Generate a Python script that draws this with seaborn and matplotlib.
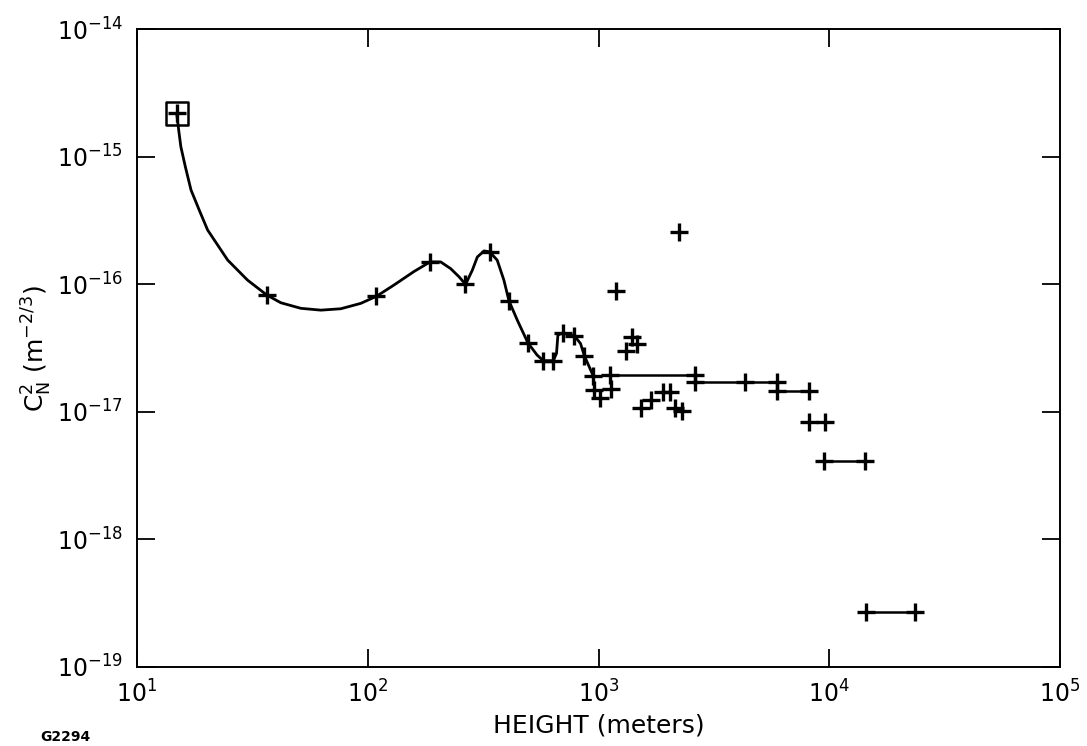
import matplotlib
matplotlib.use("Agg")
import matplotlib.pyplot as plt
import matplotlib.ticker as mticker
import seaborn as sns
import pandas as pd

# ---- data ----
# smooth hand-drawn curve through the low-altitude points
curve_height = [14.86, 15.16, 15.49, 16.2, 17.14, 18.6, 20.23, 24.72, 30.13, 36.56, 41.98,
                51.29, 62.66, 76.38, 93.33, 109.4, 130.0, 158.5, 186.2, 207.0, 228.6,
                248.3, 265.5, 283.8, 298.5, 319.2, 337.3, 363.9, 389.0, 409.3, 444.6,
                494.3, 542.0, 576.8, 636.8, 657.7, 666.8, 701.5, 787.0, 835.6, 869.0, 948.4]
curve_cn2 = [2.19e-15, 1.62e-15, 1.20e-15, 8.36e-16, 5.50e-16, 3.83e-16, 2.67e-16, 1.55e-16,
             1.08e-16, 8.24e-17, 7.18e-17, 6.49e-17, 6.28e-17, 6.44e-17, 7.10e-17, 8.09e-17,
             9.89e-17, 1.26e-16, 1.50e-16, 1.50e-16, 1.33e-16, 1.15e-16, 1.00e-16, 1.29e-16,
             1.64e-16, 1.83e-16, 1.80e-16, 1.55e-16, 1.08e-16, 7.43e-17, 5.25e-17, 3.48e-17,
             2.79e-17, 2.52e-17, 2.52e-17, 2.88e-17, 4.00e-17, 4.17e-17, 3.94e-17, 3.44e-17,
             2.75e-17, 1.92e-17]

# measured points (+ markers)
point_height = [14.9, 36.6, 109, 186, 265, 337, 409, 494, 577, 637, 701, 787, 869, 948,
                960, 1020, 1127, 1138, 1195, 1310, 1400, 1470, 1530, 1690, 1900, 2035,
                2155, 2230, 2300, 2630, 2630, 4300, 5930, 5930, 8130, 8130, 9610,
                9510, 14300, 14450, 23550]
point_cn2 = [2.19e-15, 8.2e-17, 8.1e-17, 1.5e-16, 1.0e-16, 1.8e-16, 7.4e-17, 3.48e-17,
             2.52e-17, 2.52e-17, 4.17e-17, 3.94e-17, 2.75e-17, 1.92e-17,
             1.48e-17, 1.28e-17, 1.94e-17, 1.51e-17, 8.85e-17, 3.0e-17, 3.88e-17, 3.4e-17,
             1.08e-17, 1.25e-17, 1.42e-17, 1.42e-17, 1.08e-17, 2.56e-16, 1.01e-17,
             1.94e-17, 1.72e-17, 1.72e-17, 1.72e-17, 1.47e-17, 1.47e-17, 8.36e-18, 8.36e-18,
             4.11e-18, 4.11e-18, 2.7e-19, 2.7e-19]

# layer-average step segments
seg_id = [1, 1, 1, 2, 2, 2, 2, 3, 3, 4, 4]
seg_height = [1127, 2630, 2630, 2630, 4300, 5930, 5930, 5930, 8130, 9510, 14300]
seg_cn2 = [1.94e-17, 1.94e-17, 1.72e-17, 1.72e-17, 1.72e-17, 1.72e-17, 1.47e-17,
           1.47e-17, 1.47e-17, 4.11e-18, 4.11e-18]
seg5_height = [14800, 23550]
seg5_cn2 = [2.7e-19, 2.7e-19]

# surface point (square)
square_height = [14.9]
square_cn2 = [2.19e-15]

x_ticks = [1e1, 1e2, 1e3, 1e4, 1e5]
y_ticks = [1e-19, 1e-18, 1e-17, 1e-16, 1e-15, 1e-14]

# ---- plotting ----
sns.set_style("white")
plt.rcParams["font.family"] = ["DejaVu Sans"]
plt.rcParams["mathtext.fontset"] = "dejavusans"
plt.rcParams["text.color"] = "black"
plt.rcParams["axes.labelcolor"] = "black"

fig = plt.figure(figsize=(10.87, 7.46), dpi=100)
ax = fig.add_axes([137 / 1087, 1 - 667 / 746, (1060 - 137) / 1087, (667 - 29.3) / 746])

ax.set_xscale("log")
ax.set_yscale("log")

sns.lineplot(x=curve_height, y=curve_cn2, sort=False, estimator=None,
             color="black", linewidth=2.0, ax=ax)

seg_df = pd.DataFrame({"h": seg_height, "c": seg_cn2, "s": seg_id})
sns.lineplot(data=seg_df, x="h", y="c", units="s", estimator=None, sort=False,
             color="black", linewidth=1.8, ax=ax)
sns.lineplot(x=seg5_height, y=seg5_cn2, sort=False, estimator=None,
             color="black", linewidth=1.8, ax=ax)

sns.scatterplot(x=point_height, y=point_cn2, marker="+", s=170, linewidth=2.4,
                color="black", ax=ax, zorder=5)
sns.scatterplot(x=square_height, y=square_cn2, marker="s", s=260,
                facecolor="none", edgecolor="black", linewidth=1.8, ax=ax, zorder=6)

ax.set_xlim(1e1, 1e5)
ax.set_ylim(1e-19, 1e-14)
ax.xaxis.set_major_locator(mticker.FixedLocator(x_ticks))
ax.yaxis.set_major_locator(mticker.FixedLocator(y_ticks))
ax.xaxis.set_minor_locator(mticker.NullLocator())
ax.yaxis.set_minor_locator(mticker.NullLocator())
ax.xaxis.set_major_formatter(mticker.LogFormatterMathtext())
ax.yaxis.set_major_formatter(mticker.LogFormatterMathtext())

ax.tick_params(which="major", direction="in", length=13, width=1.3,
               top=True, right=True, bottom=True, left=True,
               labelsize=17, colors="black", pad=10)
for sp in ax.spines.values():
    sp.set_visible(True)
    sp.set_color("black")
    sp.set_linewidth(1.4)

ax.set_xlabel("HEIGHT (meters)", fontsize=18, labelpad=4)
ax.set_ylabel(r"$\mathrm{C_N^2}\ (\mathrm{m^{-2/3}})$", fontsize=18, labelpad=2)

fig.text(40 / 1087, 1 - 737 / 746, "G2294", fontsize=10, fontweight="bold",
         ha="left", va="center")

fig.savefig("out.png", dpi=100, facecolor="white")
